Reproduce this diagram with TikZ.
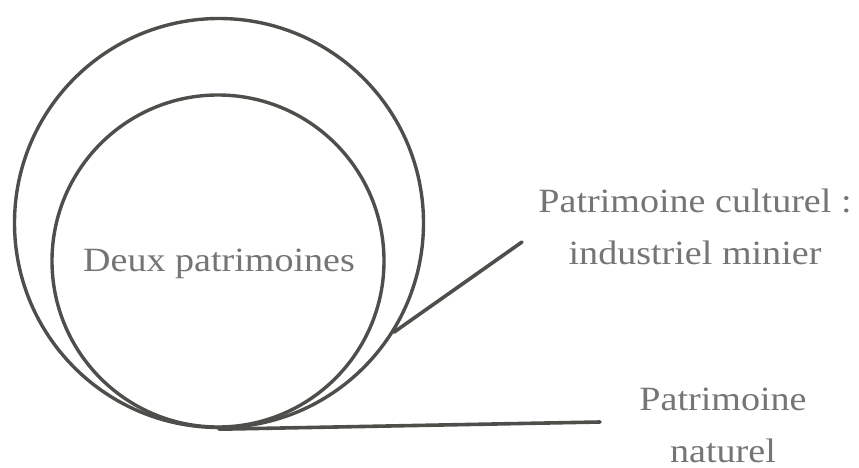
\documentclass[tikz,border=0pt]{standalone}
\usepackage{fontspec}
\setmainfont{Liberation Serif}[FakeStretch=1.12]
\usepackage{tikz}

\begin{document}
\begin{tikzpicture}[x=1pt,y=-1pt,line cap=round]
\definecolor{inkgray}{HTML}{4E4E4A}
\definecolor{txtgray}{HTML}{757575}
\tikzset{
  ring/.style={circle,draw=inkgray,line width=3.4pt,inner sep=0pt},
  stroke/.style={draw=inkgray,line width=3.6pt},
  label/.style={text=txtgray,font=\fontsize{34}{52}\selectfont,align=center,inner sep=0pt}
}
\useasboundingbox (0,0) rectangle (859,468);
% circles
\node[ring,minimum size=409pt] (outer) at (219,223) {};
\node[ring,minimum size=332pt] (inner) at (218,261) {};
\node[label] (deux) at (219,264) {Deux patrimoines};
% branches
\coordinate (culturelend) at (522,242);
\coordinate (naturelend) at (600,422);
\draw[stroke] (outer.-32.5) -- (culturelend);
\draw[stroke] (outer.south) -- (naturelend);
% labels
\node[label] (culturel) at (695,227) {Patrimoine culturel :\\industriel minier};
\node[label] (naturel) at (723,425) {Patrimoine\\naturel};
\end{tikzpicture}
\end{document}
